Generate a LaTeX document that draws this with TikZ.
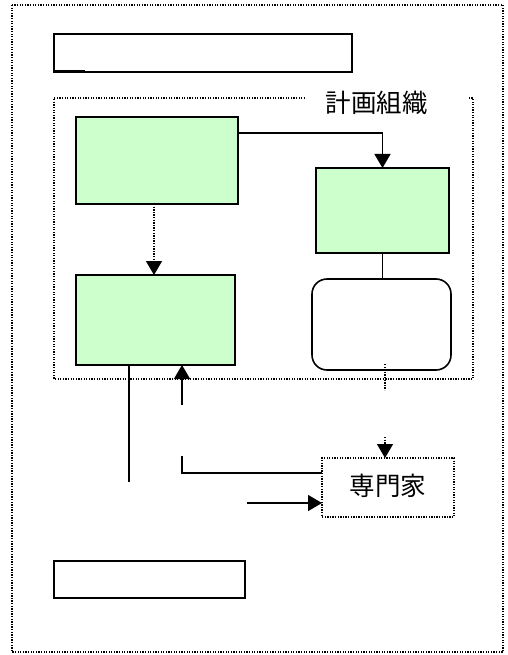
\documentclass[tikz,border=0pt]{standalone}
\usepackage{fontspec}
\newfontfamily\cjk{Noto Sans CJK JP}
\usetikzlibrary{arrows.meta,calc}
\definecolor{lgreen}{HTML}{CCFFCC}
\tikzset{
  gbox/.style={draw, fill=lgreen, line width=1.4pt, inner sep=0pt, outer sep=0pt},
  wbox/.style={draw, line width=2pt, inner sep=0pt, outer sep=0pt},
  rbox/.style={draw, line width=1.6pt, rounded corners=15pt, inner sep=0pt, outer sep=0pt},
  dbox/.style={draw, line width=1.3pt, dash pattern=on 1.3pt off 1.3pt, inner sep=0pt, outer sep=0pt},
  frame/.style={line width=1.3pt, dash pattern=on 1.3pt off 1.3pt},
  conn/.style={line width=1.5pt},
  arr/.style={line width=1.5pt, -{Triangle[length=14pt,width=16pt]}},
  dotarr/.style={line width=1.3pt, dash pattern=on 1.3pt off 1.3pt, -{Triangle[length=14pt,width=16pt]}},
  lbl/.style={font=\cjk\fontsize{25.5pt}{30pt}\selectfont, inner sep=0pt}
}
\begin{document}
\begin{tikzpicture}[x=1pt,y=-1pt]
\useasboundingbox (0,0) rectangle (507,655);
% outer frame
\draw[frame] (12,5) rectangle (503,652);
% inner frame
\draw[frame] (305,98) -- (54,98) -- (54,379) -- (473,379) -- (473,98) -- (468,98);
\node[lbl] (plan) at (376.5,103) {計画組織};
% boxes
\node[wbox, minimum width=298pt, minimum height=38pt] (top) at (203,53) {};
\draw[line width=3pt] (top.south west) -- ++(31,0);
\node[gbox, minimum width=162pt, minimum height=87pt] (b1) at (157,160.5) {};
\node[gbox, minimum width=133pt, minimum height=85pt] (b2) at (382.5,210.5) {};
\node[gbox, minimum width=159pt, minimum height=90pt] (b3) at (155.5,320) {};
\node[rbox, minimum width=139pt, minimum height=91pt] (rb) at (381.5,324.5) {};
\node[dbox, minimum width=132pt, minimum height=59pt] (ex) at (388,487.5) {};
\node[lbl] (extxt) at (388,486) {専門家};
\node[wbox, minimum width=191pt, minimum height=37pt] (bot) at (149.5,579.5) {};
% connectors
\draw[arr] ([yshift=-16pt]b1.north east) -| (b2.north);
\draw[dotarr] ([xshift=-3pt]b1.south) -- ([xshift=-1.5pt]b3.north);
\draw[conn] (b2.south) -- (b2.south |- rb.north);
\coordinate (d1) at (385,364);
\coordinate (d2) at (385,390);
\draw[frame] (d1) -- (d2);
\coordinate (d3) at (385,437);
\draw[dotarr] (d3) -- (ex.north -| d3);
\coordinate (l1) at (129,482);
\draw[conn] ([xshift=-26.5pt]b3.south) -- (l1);
\coordinate (u1) at (182,405);
\draw[arr] (u1) -- (b3.south -| u1);
\coordinate (u2) at (182,456);
\draw[conn] (ex.west |- 0,473) -| (u2);
\coordinate (a1) at (247,503);
\draw[arr] (a1) -- (ex.west |- a1);
\end{tikzpicture}
\end{document}
